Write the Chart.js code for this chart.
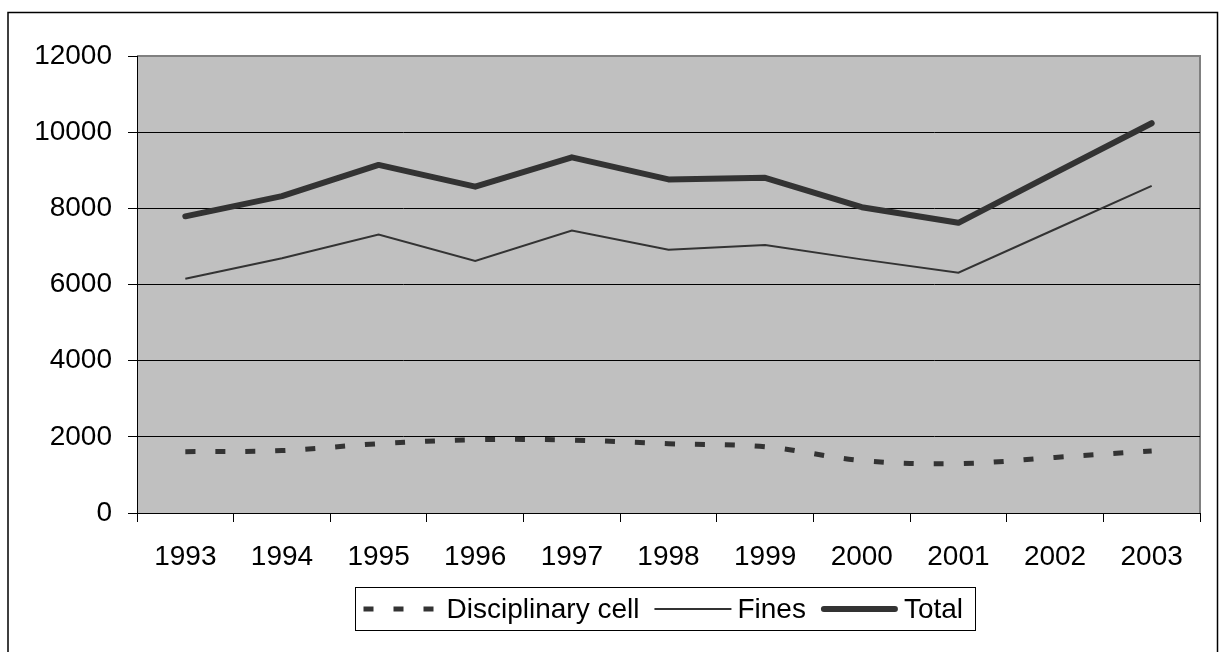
<!DOCTYPE html>
<html>
<head>
<meta charset="utf-8">
<script src="https://cdn.jsdelivr.net/npm/chart.js@4"></script>
<style>
  html, body { margin: 0; padding: 0; background: #fff; }
  #wrap { width: 1220px; height: 652px; }
</style>
</head>
<body>
<div id="wrap"><canvas id="c" width="1220" height="652"></canvas></div>
<script>
const years = ['1993','1994','1995','1996','1997','1998','1999','2000','2001','2002','2003'];
const disciplinaryCell = [1610, 1640, 1820, 1925, 1915, 1820, 1740, 1375, 1295, 1460, 1630];
const fines = [6150, 6690, 7310, 6620, 7420, 6910, 7040, 6660, 6310, 7450, 8590];
const total = [7790, 8320, 9140, 8570, 9340, 8760, 8800, 8030, 7620, 8930, 10235];
const yTicks = [0, 2000, 4000, 6000, 8000, 10000, 12000];

const FONT = "'Liberation Sans', Arial, sans-serif";
const FS = 28;
const LINE = '#333333';

const bgPlugin = {
  id: 'bg',
  beforeDraw(chart) {
    const { ctx, chartArea: a } = chart;
    ctx.save();
    ctx.fillStyle = '#fff';
    ctx.fillRect(0, 0, chart.width, chart.height);
    ctx.fillStyle = '#c0c0c0';
    ctx.fillRect(a.left, a.top, a.right - a.left, a.bottom - a.top);
    ctx.strokeStyle = '#808080';
    ctx.lineWidth = 2;
    ctx.beginPath();
    ctx.moveTo(a.left, a.top);
    ctx.lineTo(a.right, a.top);
    ctx.lineTo(a.right, a.bottom);
    ctx.stroke();
    ctx.restore();
  },
  afterDraw(chart) {
    const { ctx, chartArea: a } = chart;
    ctx.save();
    // outer frame
    ctx.strokeStyle = '#000';
    ctx.lineWidth = 1.5;
    ctx.strokeRect(8, 12.5, 1209.5, 700);
    // legend
    ctx.font = FS + 'px ' + FONT;
    ctx.textBaseline = 'middle';
    const symW = 77, gapT = 6, gapI = 15, padL = 8, padR = 12;
    const items = chart.data.datasets.map(ds => ({ ds, w: ctx.measureText(ds.label).width }));
    let totalW = padL + padR;
    items.forEach((it, i) => { totalW += symW + gapT + it.w + (i < items.length - 1 ? gapI : 0); });
    const cx = (a.left + a.right) / 2 - 4;
    const boxL = Math.round(cx - totalW / 2) + 0.5;
    const boxT = 587.5, boxH = 43;
    ctx.strokeStyle = '#000';
    ctx.lineWidth = 1;
    ctx.strokeRect(boxL, boxT, Math.round(totalW), boxH);
    const cy = boxT + boxH / 2;
    let x = boxL + padL;
    items.forEach((it, i) => {
      const ds = it.ds;
      ctx.save();
      ctx.strokeStyle = ds.borderColor;
      ctx.lineWidth = ds.borderWidth;
      ctx.setLineDash(ds.borderDash || []);
      ctx.lineCap = ds.borderCapStyle || 'butt';
      const inset = ds.borderCapStyle === 'round' ? ds.borderWidth / 2 : 0;
      ctx.beginPath();
      ctx.moveTo(x + inset, cy);
      ctx.lineTo(x + symW - inset, cy);
      ctx.stroke();
      ctx.restore();
      x += symW + gapT;
      ctx.fillStyle = '#000';
      ctx.textAlign = 'left';
      ctx.fillText(ds.label, x, cy + 1);
      x += it.w + gapI;
    });
    ctx.restore();
  }
};

new Chart(document.getElementById('c'), {
  type: 'line',
  data: {
    labels: years,
    datasets: [
      {
        label: 'Disciplinary cell',
        data: disciplinaryCell,
        borderColor: LINE,
        borderWidth: 5,
        borderDash: [10, 20],
        borderCapStyle: 'butt',
        tension: 0.35,
        pointRadius: 0,
        fill: false
      },
      {
        label: 'Fines',
        data: fines,
        borderColor: LINE,
        borderWidth: 2,
        tension: 0,
        pointRadius: 0,
        fill: false
      },
      {
        label: 'Total',
        data: total,
        borderColor: LINE,
        borderWidth: 6,
        borderCapStyle: 'round',
        borderJoinStyle: 'round',
        tension: 0,
        pointRadius: 0,
        fill: false
      }
    ]
  },
  options: {
    responsive: false,
    animation: false,
    devicePixelRatio: 1,
    layout: { padding: { left: 0, top: 56, right: 20, bottom: 0 } },
    plugins: {
      legend: { display: false },
      tooltip: { enabled: false }
    },
    scales: {
      x: {
        type: 'category',
        offset: true,
        afterFit(scale) { scale.height = 139; },
        grid: {
          offset: true,
          drawOnChartArea: false,
          drawTicks: true,
          tickLength: 9,
          color: '#000',
          tickColor: '#000'
        },
        border: { display: true, color: '#000', width: 1 },
        ticks: {
          color: '#000',
          font: { family: FONT, size: FS },
          padding: 18,
          maxRotation: 0,
          autoSkip: false
        }
      },
      y: {
        min: 0,
        max: 12000,
        afterFit(scale) { scale.width = 137; },
        afterBuildTicks(scale) { scale.ticks = yTicks.map(v => ({ value: v })); },
        grid: {
          color: (c) => (c.tick && c.tick.value === 12000) ? 'rgba(0,0,0,0)' : '#000',
          tickColor: '#000',
          lineWidth: 1,
          tickLength: 9,
          drawTicks: true
        },
        border: { display: true, color: '#000', width: 1 },
        ticks: {
          color: '#000',
          font: { family: FONT, size: FS },
          padding: 16,
          callback: (v) => String(v)
        }
      }
    }
  },
  plugins: [bgPlugin]
});
</script>
</body>
</html>
